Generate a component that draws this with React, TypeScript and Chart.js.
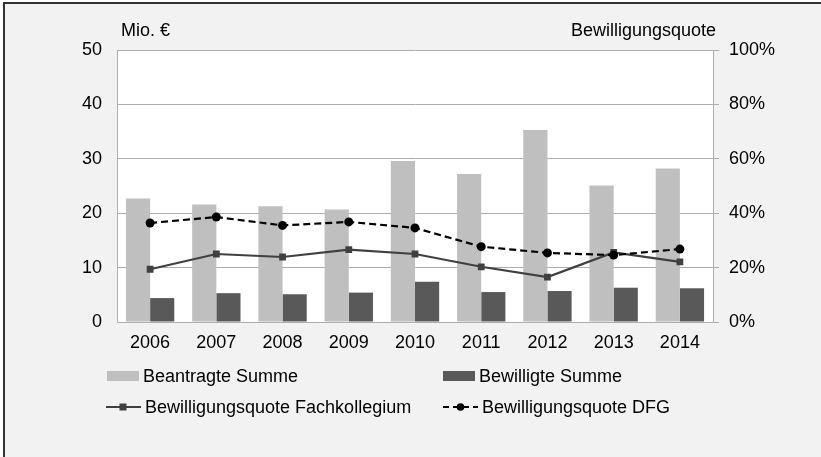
import React, { useEffect, useRef } from "react";
import { Chart, registerables } from "chart.js";

Chart.register(...registerables);

const years = ["2006", "2007", "2008", "2009", "2010", "2011", "2012", "2013", "2014"];
const beantragteSumme = [22.7, 21.6, 21.3, 20.7, 29.6, 27.2, 35.3, 25.1, 28.2];
const bewilligteSumme = [4.4, 5.3, 5.1, 5.4, 7.4, 5.5, 5.7, 6.3, 6.2];
const quoteFachkollegium = [19.4, 25.0, 23.9, 26.6, 25.0, 20.3, 16.5, 25.6, 22.1];
const quoteDFG = [36.4, 38.6, 35.5, 36.8, 34.6, 27.7, 25.4, 24.6, 26.8];

const FONT = "'Liberation Sans', Arial, sans-serif";
const FS = 18;
const GRID = "#adadad";
const LIGHT = "#bfbfbf";
const DARK = "#595959";
const LINE1 = "#404040";
const LINE2 = "#000000";

const W = 821;
const H = 457;

const plotBg = {
  id: "plotBg",
  beforeDraw(chart: any) {
    const { ctx, chartArea } = chart;
    ctx.save();
    ctx.fillStyle = "#ffffff";
    ctx.fillRect(chartArea.left, chartArea.top, chartArea.right - chartArea.left, chartArea.bottom - chartArea.top);
    ctx.restore();
  },
};

function LegendItem({ x, y, swatch, label }: { x: number; y: number; swatch: React.ReactNode; label: string }) {
  return (
    <div
      style={{
        position: "absolute",
        left: x,
        top: y - 11,
        height: 22,
        display: "flex",
        alignItems: "center",
        whiteSpace: "nowrap",
        fontFamily: FONT,
        fontSize: FS,
        color: "#000",
      }}
    >
      {swatch}
      <span style={{ marginLeft: 4 }}>{label}</span>
    </div>
  );
}

export default function App() {
  const ref = useRef<HTMLCanvasElement | null>(null);

  useEffect(() => {
    if (!ref.current) return;
    const chart = new Chart(ref.current, {
      type: "bar",
      data: {
        labels: years,
        datasets: [
          {
            type: "line",
            label: "Bewilligungsquote DFG",
            data: quoteDFG,
            yAxisID: "y1",
            borderColor: LINE2,
            backgroundColor: LINE2,
            borderWidth: 2.2,
            borderDash: [7, 4],
            pointStyle: "circle",
            pointRadius: 4.5,
            pointBorderWidth: 0,
            tension: 0,
            order: 0,
          } as any,
          {
            type: "line",
            label: "Bewilligungsquote Fachkollegium",
            data: quoteFachkollegium,
            yAxisID: "y1",
            borderColor: LINE1,
            backgroundColor: LINE1,
            borderWidth: 2.2,
            pointStyle: "rect",
            pointRadius: 4.8,
            pointBorderWidth: 0,
            tension: 0,
            order: 1,
          } as any,
          {
            type: "bar",
            label: "Beantragte Summe",
            data: beantragteSumme,
            yAxisID: "y",
            backgroundColor: LIGHT,
            barPercentage: 1,
            categoryPercentage: 0.73,
            order: 2,
          },
          {
            type: "bar",
            label: "Bewilligte Summe",
            data: bewilligteSumme,
            yAxisID: "y",
            backgroundColor: DARK,
            barPercentage: 1,
            categoryPercentage: 0.73,
            order: 2,
          },
        ],
      },
      options: {
        responsive: false,
        animation: false,
        devicePixelRatio: 1,
        layout: { padding: { top: 50, left: 0, right: 0, bottom: 0 } },
        plugins: {
          legend: { display: false },
          tooltip: { enabled: false },
        },
        scales: {
          x: {
            grid: { display: false, drawTicks: false },
            border: { display: true, color: GRID, width: 1 },
            ticks: { font: { family: FONT, size: FS }, color: "#000", padding: 10, maxRotation: 0 },
            afterFit(scale: any) {
              scale.height = H - 322;
            },
          },
          y: {
            position: "left",
            min: 0,
            max: 50,
            ticks: { stepSize: 10, font: { family: FONT, size: FS }, color: "#000", padding: 15 },
            grid: { color: GRID, drawTicks: false, lineWidth: 1 },
            border: { display: true, color: GRID, width: 1 },
            afterFit(scale: any) {
              scale.width = 117;
            },
          },
          y1: {
            position: "right",
            min: 0,
            max: 100,
            ticks: {
              stepSize: 20,
              font: { family: FONT, size: FS },
              color: "#000",
              padding: 10,
              callback: (v: any) => v + "%",
            },
            grid: { drawOnChartArea: false, drawTicks: true, tickLength: 6, color: GRID, lineWidth: 1 },
            border: { display: true, color: GRID, width: 1 },
            afterFit(scale: any) {
              scale.width = W - 713;
            },
          },
        },
      },
      plugins: [plotBg],
    });
    return () => chart.destroy();
  }, []);

  const barSwatch = (c: string) => (
    <span style={{ display: "inline-block", width: 32, height: 10, background: c }} />
  );

  return (
    <div style={{ position: "fixed", left: 0, top: 0, width: W, height: H, overflow: "hidden", background: "#fff" }}>
      <div
        style={{
          position: "absolute",
          left: 3,
          top: 2,
          width: 900,
          height: 600,
          border: "2px solid #333",
          background: "#f2f2f2",
        }}
      />
      <canvas ref={ref} width={W} height={H} style={{ position: "absolute", left: 0, top: 0, width: W, height: H }} />
      <div style={{ position: "absolute", left: 121, top: 20, fontFamily: FONT, fontSize: FS, color: "#000", whiteSpace: "nowrap" }}>
        Mio. €
      </div>
      <div
        style={{
          position: "absolute",
          right: W - 716,
          top: 20,
          fontFamily: FONT,
          fontSize: FS,
          color: "#000",
          whiteSpace: "nowrap",
        }}
      >
        Bewilligungsquote
      </div>
      <LegendItem x={107} y={376} swatch={barSwatch(LIGHT)} label="Beantragte Summe" />
      <LegendItem x={443} y={376} swatch={barSwatch(DARK)} label="Bewilligte Summe" />
      <LegendItem
        x={106}
        y={407}
        swatch={
          <svg width="35" height="10" style={{ display: "block" }}>
            <line x1="0" y1="5" x2="35" y2="5" stroke={LINE1} strokeWidth="2.2" />
            <rect x="13.5" y="1.5" width="7" height="7" fill={LINE1} />
          </svg>
        }
        label="Bewilligungsquote Fachkollegium"
      />
      <LegendItem
        x={443}
        y={407}
        swatch={
          <svg width="35" height="10" style={{ display: "block" }}>
            <line x1="0" y1="5" x2="35" y2="5" stroke={LINE2} strokeWidth="2.2" strokeDasharray="6 4" />
            <circle cx="17.5" cy="5" r="3.8" fill={LINE2} />
          </svg>
        }
        label="Bewilligungsquote DFG"
      />
    </div>
  );
}
